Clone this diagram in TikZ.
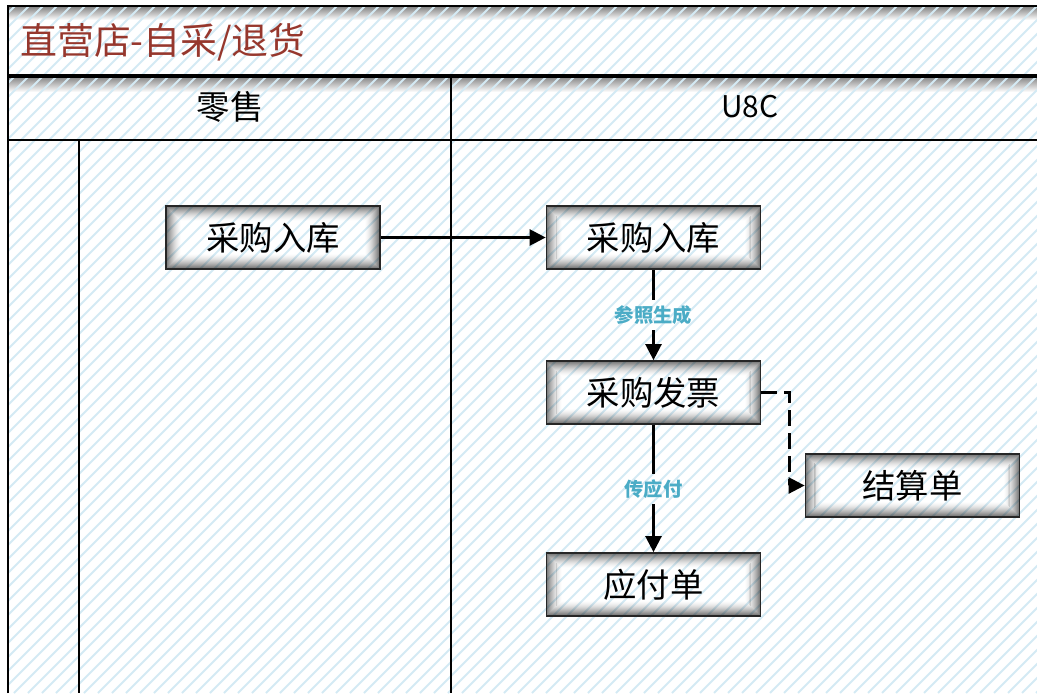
\documentclass[tikz,border=0pt]{standalone}
\usepackage{fontspec}
\setmainfont{Noto Sans CJK SC}
\usetikzlibrary{arrows.meta}
\definecolor{titlered}{RGB}{150,55,45}
\definecolor{hatchblue}{RGB}{212,234,244}
\definecolor{labelblue}{RGB}{75,172,198}
\tikzset{
  stepbox/.style={draw=black!85, line width=1pt, minimum width=4.28cm, minimum height=1.26cm,
    inner sep=0pt, font=\fontsize{19}{22}\selectfont,
    path picture={
      \foreach \i in {1,...,14}
        \draw[black, opacity={0.55*((15-\i)/15)^1.6}, line width=0.65pt]
          ([shift={(\i*0.021cm,\i*0.021cm)}]path picture bounding box.south west) rectangle
          ([shift={(-\i*0.021cm,-\i*0.021cm)}]path picture bounding box.north east);
    }},
  flowlbl/.style={text=labelblue, font=\bfseries\fontsize{11}{13}\selectfont, inner sep=3pt},
  flowarrow/.style={line width=1.4pt, -{Triangle[length=0.32cm,width=0.32cm]}},
  laneline/.style={line width=1.2pt},
}

\begin{document}
\begin{tikzpicture}[x=0.02cm, y=-0.02cm]
  \useasboundingbox (0,0) rectangle (1037,693);

  % band shadows
  \shade[top color=black!50, bottom color=white] (8,6) rectangle (1037,20);
  \shade[top color=black!50, bottom color=white] (8,76) rectangle (1037,92);

  % hatching
  \begin{scope}
    \clip (8,6) rectangle (1037,693);
    \foreach \x in {-700,-686,...,1040}
      \draw[hatchblue, line width=1.1pt] (\x,693) -- (\x+687,6);
  \end{scope}

  % frame and lanes
  \draw[laneline] (8,693) -- (8,6) -- (1037,6);
  \draw[line width=1.8pt] (8,76) -- (1037,76);
  \draw[laneline] (8,140) -- (1037,140);
  \draw[laneline] (451,76) -- (451,693);
  \draw[laneline] (79,140) -- (79,693);

  % titles
  \node[anchor=west, text=titlered, font=\fontsize{21}{24}\selectfont] (title) at (14,42) {直营店-自采/退货};
  \node[font=\fontsize{19}{22}\selectfont] (retail) at (230,107) {零售};
  \node[font=\fontsize{17}{20}\selectfont] (uc) at (750,107) {U8C};

  % steps
  \node[stepbox] (in1) at (273,237.5) {采购入库};
  \node[stepbox] (in2) at (653.5,237.5) {采购入库};
  \node[stepbox] (inv) at (653.5,392.5) {采购发票};
  \node[stepbox] (settle) at (912.5,485.5) {结算单};
  \node[stepbox] (pay) at (653.5,584.5) {应付单};

  % labels
  \node[flowlbl] (ref) at (653.5,315) {参照生成};
  \node[flowlbl] (topay) at (653.5,489) {传应付};

  % connectors
  \draw[flowarrow] (in1) -- (in2);
  \draw[line width=1.4pt] (in2) -- (ref);
  \draw[flowarrow] (ref) -- (inv);
  \draw[line width=1.4pt] (inv) -- (topay);
  \draw[flowarrow] (topay) -- (pay);
  \draw[flowarrow, dash pattern=on 9pt off 4pt] (inv.east) -- ++(28,0) |- (settle.west);
\end{tikzpicture}
\end{document}
